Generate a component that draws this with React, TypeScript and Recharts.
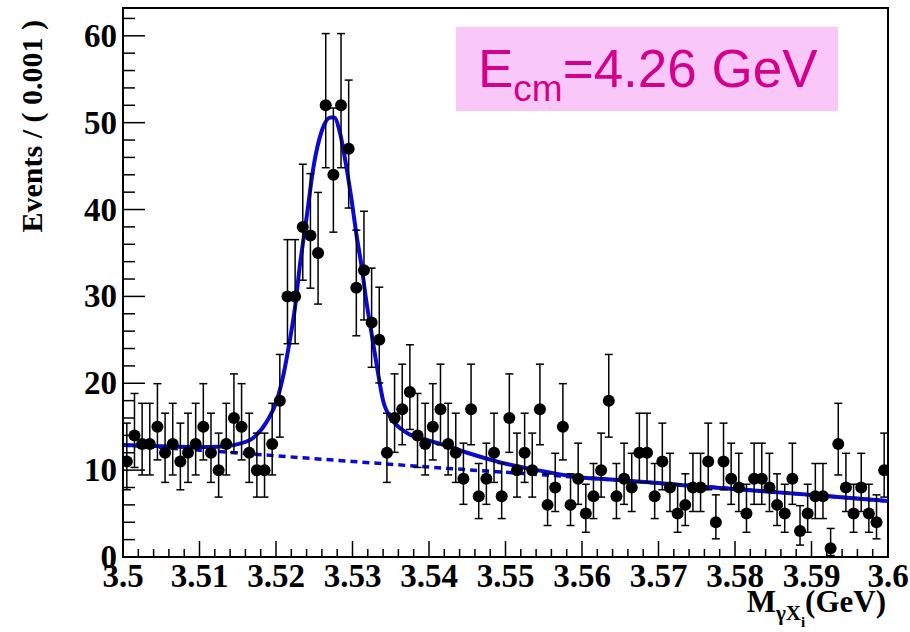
import React from 'react';
import { ComposedChart, Scatter, Line, XAxis, YAxis, ErrorBar, ReferenceArea } from 'recharts';

// 1 MeV bins from 3.500 to 3.600 GeV
const binStart = 3.5;
const binWidth = 0.001;

// events per bin
const counts = [
  11, 14, 13, 13, 15, 12, 13, 11, 12, 13,
  15, 12, 10, 13, 16, 15, 12, 10, 10, 13,
  18, 30, 30, 38, 37, 35, 52, 44, 52, 47,
  31, 33, 27, 25, 12, 16, 17, 19, 14, 13,
  15, 17, 13, 12, 9, 17, 7, 9, 12, 7,
  16, 10, 12, 10, 17, 6, 8, 15, 6, 9,
  5, 7, 10, 18, 7, 9, 8, 12, 12, 7,
  11, 8, 5, 6, 8, 8, 11, 4, 11, 9,
  8, 5, 9, 9, 8, 6, 5, 9, 3, 5,
  7, 7, 1, 13, 8, 5, 8, 5, 4, 10,
];

// full fit (signal + background)
const fitTotalX = [
  3.5, 3.505, 3.51, 3.5125, 3.515, 3.517, 3.5188, 3.5201, 3.521, 3.5218,
  3.5225, 3.5231, 3.524, 3.5249, 3.526, 3.5271, 3.5276, 3.5284, 3.5292, 3.5299,
  3.5305, 3.5312, 3.5318, 3.5325, 3.5332, 3.534, 3.5353, 3.5371, 3.54, 3.5427,
  3.545, 3.5493, 3.5541, 3.56, 3.565, 3.5728, 3.5815, 3.5902, 3.6,
];
const fitTotalY = [
  12.9, 12.75, 12.65, 12.7, 13.0, 13.7, 15.6, 18.0, 21.1, 24.9,
  28.8, 33.4, 39.1, 44.9, 49.1, 50.6, 50.6, 48.7, 44.9, 41.0,
  37.2, 33.4, 29.5, 25.7, 21.9, 18.0, 15.7, 14.3, 13.4, 12.7,
  12.0, 10.9, 10.0, 9.15, 8.85, 8.3, 7.7, 7.15, 6.45,
];

// background component, dashed curve
const fitBkgX = [3.5, 3.51, 3.52, 3.53, 3.54, 3.55, 3.56, 3.57, 3.58, 3.59, 3.6];
const fitBkgY = [12.9, 12.3, 11.65, 11.0, 10.35, 9.75, 9.15, 8.5, 7.85, 7.15, 6.45];

const xMajorTicks = [3.5, 3.51, 3.52, 3.53, 3.54, 3.55, 3.56, 3.57, 3.58, 3.59, 3.6];
const yMajorTicks = [0, 10, 20, 30, 40, 50, 60];
const yMax = 63.2;

// minor ticks: 0.002 on x, 2 on y
const xTicks = Array.from({ length: 51 }, (_, i) => (3500 + 2 * i) / 1000);
const yTicks = Array.from({ length: 32 }, (_, i) => 2 * i);

// Poisson 68% interval (Wilson-Hilferty), as RooFit draws it
const poissonLow = (n: number) => {
  if (n === 0) return 0;
  const t = 1 - 1 / (9 * n) - 1 / (3 * Math.sqrt(n));
  return n * t * t * t;
};
const poissonHigh = (n: number) => {
  const m = n + 1;
  const t = 1 - 1 / (9 * m) + 1 / (3 * Math.sqrt(m));
  return m * t * t * t;
};

const points = counts.map((n, i) => ({
  x: binStart + (i + 0.5) * binWidth,
  y: n,
  err: [n - poissonLow(n), poissonHigh(n) - n],
}));
const fitTotal = fitTotalX.map((x, i) => ({ x, y: fitTotalY[i] }));
const fitBkg = fitBkgX.map((x, i) => ({ x, y: fitBkgY[i] }));

const serif = '"Liberation Serif", "Times New Roman", serif';
const sans = '"Liberation Sans", Arial, sans-serif';
const blue = '#0a0ad0';

const isMajor = (v: number, majors: number[]) => majors.some(t => Math.abs(t - v) < 1e-7);

const XTick = (props: any) => {
  const { x, y, payload } = props;
  const v = payload.value;
  const major = isMajor(v, xMajorTicks);
  return (
    <g>
      <line x1={x} x2={x} y1={y} y2={y - (major ? 16 : 8)} stroke="#000" strokeWidth={1.5} />
      {major && (
        <text x={x} y={y + 30} textAnchor="middle" fontFamily={serif} fontWeight="bold" fontSize={33} fill="#000">
          {String(Number(v.toFixed(2)))}
        </text>
      )}
    </g>
  );
};

const YTick = (props: any) => {
  const { x, y, payload } = props;
  const v = payload.value;
  const major = isMajor(v, yMajorTicks);
  return (
    <g>
      <line x1={x} x2={x + (major ? 22 : 12)} y1={y} y2={y} stroke="#000" strokeWidth={1.5} />
      {major && (
        <text x={x - 6} y={y + 11} textAnchor="end" fontFamily={serif} fontWeight="bold" fontSize={33} fill="#000">
          {v}
        </text>
      )}
    </g>
  );
};

const Dot = (props: any) => <circle cx={props.cx} cy={props.cy} r={6} fill="#000" />;

export default function App() {
  return (
    <div style={{ position: 'absolute', left: 0, top: 0, width: 910, height: 632, background: '#fff' }}>
      <ComposedChart width={910} height={632} margin={{ top: 8, right: 22, bottom: 0, left: 0 }}>
        <XAxis
          type="number"
          dataKey="x"
          domain={[3.5, 3.6]}
          ticks={xTicks}
          interval={0}
          tickSize={0}
          tickMargin={0}
          tickLine={false}
          tick={<XTick />}
          height={75}
          axisLine={{ stroke: '#000', strokeWidth: 2 }}
          allowDataOverflow
        />
        <YAxis
          type="number"
          domain={[0, yMax]}
          ticks={yTicks}
          interval={0}
          tickSize={0}
          tickMargin={0}
          tickLine={false}
          tick={<YTick />}
          width={123}
          axisLine={{ stroke: '#000', strokeWidth: 2 }}
          allowDataOverflow
        />
        <ReferenceArea x1={3.5} x2={3.6} y1={0} y2={yMax} fill="none" fillOpacity={0} stroke="#000" strokeWidth={2} />
        <Line
          data={fitBkg}
          dataKey="y"
          type="monotone"
          stroke={blue}
          strokeWidth={3.5}
          strokeDasharray="7 5"
          dot={false}
          activeDot={false}
          isAnimationActive={false}
        />
        <Line
          data={fitTotal}
          dataKey="y"
          type="monotone"
          stroke={blue}
          strokeWidth={4}
          dot={false}
          activeDot={false}
          isAnimationActive={false}
        />
        <Scatter data={points} dataKey="y" shape={<Dot />} isAnimationActive={false}>
          <ErrorBar dataKey="err" direction="y" width={4} stroke="#000" strokeWidth={1.5} />
        </Scatter>
      </ComposedChart>
      <svg width={910} height={632} style={{ position: 'absolute', left: 0, top: 0, pointerEvents: 'none' }}>
        <text
          x={42}
          y={20}
          transform="rotate(-90, 42, 20)"
          textAnchor="end"
          fontFamily={serif}
          fontWeight="bold"
          fontSize={30}
          fill="#000"
        >
          Events / ( 0.001 )
        </text>
        <text x={886} y={612} textAnchor="end" fontFamily={serif} fontWeight="bold" fontSize={31} fill="#000">
          M
          <tspan fontSize={21} dy={8}>γX</tspan>
          <tspan fontSize={15} dy={7}>i</tspan>
          <tspan fontSize={31} dy={-15}>(GeV)</tspan>
        </text>
        <rect x={456} y={27} width={382} height={84} fill="#f9c8f9" />
        <text x={478} y={87} fontFamily={sans} fontSize={53} fill="#d4008c">
          E
          <tspan fontSize={37} dy={14}>cm</tspan>
          <tspan fontSize={53} dy={-14}>=4.26 GeV</tspan>
        </text>
      </svg>
    </div>
  );
}
